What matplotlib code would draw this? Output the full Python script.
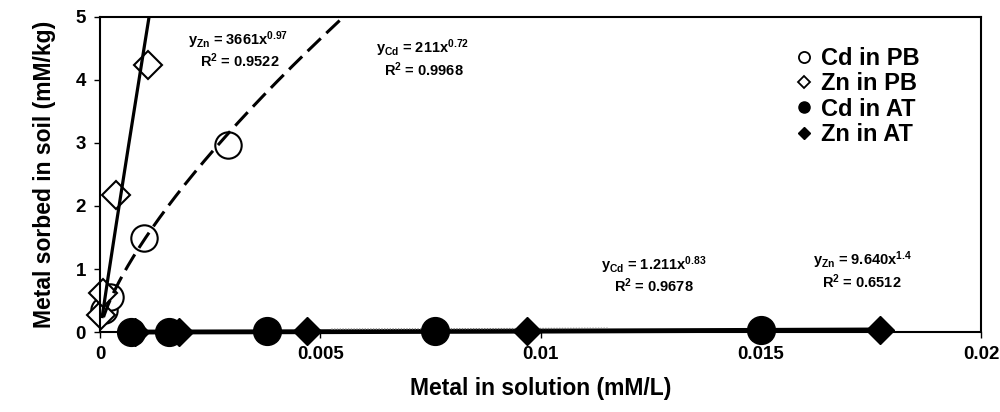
import numpy as np
import matplotlib.pyplot as plt
from matplotlib.lines import Line2D

plt.rcParams['font.family'] = ['Liberation Sans', 'DejaVu Sans']
plt.rcParams['font.weight'] = 'bold'
plt.rcParams['mathtext.fontset'] = 'custom'
plt.rcParams['mathtext.rm'] = 'Liberation Sans:bold'
plt.rcParams['mathtext.it'] = 'Liberation Sans:bold'
plt.rcParams['mathtext.bf'] = 'Liberation Sans:bold'

# measured points (mM/L, mM/kg)
cd_pb_x = [0.0001, 0.00023, 0.00099, 0.0029]
cd_pb_y = [0.35, 0.55, 1.49, 2.96]
zn_pb_x = [0.00003, 0.00006, 0.00037, 0.0011]
zn_pb_y = [0.27, 0.62, 2.18, 4.24]
cd_at_x = [0.0007, 0.00156, 0.0038, 0.0076, 0.015]
cd_at_y = [0.003, 0.006, 0.012, 0.021, 0.037]
zn_at_x = [0.0008, 0.0018, 0.0047, 0.0097, 0.0177]
zn_at_y = [0.002, 0.005, 0.012, 0.021, 0.034]

# power trendlines y = a * x^b as printed on the chart
fit_zn_pb = (3661, 0.97)
fit_cd_pb = (211, 0.72)
fit_cd_at = (1.211, 0.83)
fit_zn_at = (9.640, 1.4)


def trend(fit, x0, x1):
    xs = np.linspace(x0, x1, 300)
    return xs, fit[0] * xs ** fit[1]


fig = plt.figure(figsize=(10, 4.12), dpi=100)
ax = fig.add_axes([0.100, 0.194, 0.881, 0.765])

# trendlines
xs, ys = trend(fit_zn_pb, 0.00005, 0.00115)
ax.plot(xs, ys, color='black', lw=2.3, zorder=3)
xs, ys = trend(fit_cd_pb, 0.00008, 0.0056)
ax.plot(xs, ys, color='black', lw=2.2, dashes=(6, 2.5), zorder=3)
xs, ys = trend(fit_zn_at, 0.0008, 0.0177)
ax.plot(xs, ys, color='black', lw=3.5, zorder=3, clip_on=False)
xs, ys = trend(fit_cd_at, 0.0052, 0.0115)
ax.plot(xs + 0.00005, ys + 0.03, color='#777777', lw=1.0, dashes=(1, 1), zorder=3)

# points
ax.plot(cd_pb_x, cd_pb_y, 'o', ms=19, mfc='white', mec='black', mew=1.5, ls='none',
        zorder=2, clip_on=False)
ax.plot(zn_pb_x, zn_pb_y, 'D', ms=14, mfc='white', mec='black', mew=1.5, ls='none',
        zorder=2, clip_on=False)
ax.plot(zn_at_x, zn_at_y, 'D', ms=14, color='black', ls='none', zorder=4, clip_on=False)
ax.plot(cd_at_x, cd_at_y, 'o', ms=20, color='black', ls='none', zorder=4, clip_on=False)

ax.set_xlim(0, 0.02)
ax.set_ylim(0, 5)
ax.set_xticks([0, 0.005, 0.01, 0.015, 0.02])
ax.set_xticklabels(['0', '0.005', '0.01', '0.015', '0.02'])
ax.set_yticks([0, 1, 2, 3, 4, 5])
for s in ax.spines.values():
    s.set_linewidth(1.5)
ax.tick_params(direction='out', length=4, width=1, labelsize=13.5, pad=6)
ax.set_xlabel('Metal in solution (mM/L)', fontsize=16.5, fontweight='bold', labelpad=10)
ax.set_ylabel('Metal sorbed in soil (mM/kg)', fontsize=16.5, fontweight='bold', labelpad=14)

# equations
eq = dict(ha='center', va='center', fontsize=10.5, fontweight='bold')
ax.text(0.00313, 4.63, r'y$_{\mathrm{Zn}}$ = 3661x$^{0.97}$', **eq)
ax.text(0.00318, 4.30, r'R$^{2}$ = 0.9522', **eq)
ax.text(0.00733, 4.50, r'y$_{\mathrm{Cd}}$ = 211x$^{0.72}$', **eq)
ax.text(0.00736, 4.17, r'R$^{2}$ = 0.9968', **eq)
ax.text(0.01257, 1.06, r'y$_{\mathrm{Cd}}$ = 1.211x$^{0.83}$', **eq)
ax.text(0.01257, 0.74, r'R$^{2}$ = 0.9678', **eq)
ax.text(0.0173, 1.14, r'y$_{\mathrm{Zn}}$ = 9.640x$^{1.4}$', **eq)
ax.text(0.0173, 0.80, r'R$^{2}$ = 0.6512', **eq)

handles = [
    Line2D([], [], marker='o', ls='none', mfc='white', mec='black', mew=1.3, ms=8),
    Line2D([], [], marker='D', ls='none', mfc='white', mec='black', mew=1.3, ms=6),
    Line2D([], [], marker='o', ls='none', color='black', ms=8),
    Line2D([], [], marker='D', ls='none', color='black', ms=6),
]
labels = ['Cd in PB', 'Zn in PB', 'Cd in AT', 'Zn in AT']
ax.legend(handles, labels, loc='upper left', bbox_to_anchor=(0.78, 0.935), frameon=False,
          handlelength=0.6, handletextpad=0.45, labelspacing=0.1, borderaxespad=0,
          prop={'size': 17, 'weight': 'bold'})

fig.savefig('out.png', dpi=100)
